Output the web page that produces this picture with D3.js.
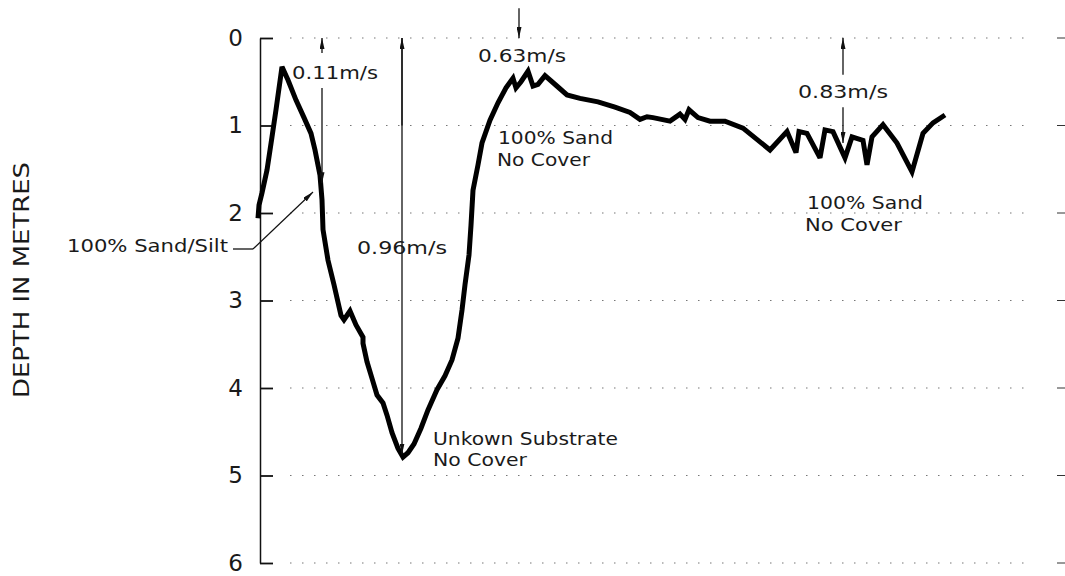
<!DOCTYPE html>
<html>
<head>
<meta charset="utf-8">
<script src="https://cdn.jsdelivr.net/npm/d3@7"></script>
<style>
  body { margin: 0; background: #fff; }
  svg { display: block; }
  text { font-family: "DejaVu Sans", "Liberation Sans", sans-serif; fill: #1a1a1a; }
</style>
</head>
<body>
<svg id="chart" width="1065" height="576"></svg>
<script>
// ---- data read off the cross-section ----
// chainage along the transect (arbitrary units) and bed depth in metres
let chainage = [-2, -1, 2, 7, 12, 16, 22, 28, 36, 44, 51, 55, 60, 62, 63, 68, 74, 81, 84, 90,
  96, 103, 103, 107, 112, 117, 123, 127, 132, 138, 143, 148, 154, 161, 168, 177, 185, 192, 198, 202,
  205, 209, 211, 213, 218, 222, 230, 238, 246, 253, 256, 261, 268, 273, 278, 285, 296, 307, 320, 338,
  355, 370, 380, 387, 393, 410, 420, 425, 429, 438, 450, 465, 483, 510, 527, 536, 539, 547, 560, 565,
  573, 585, 592, 603, 607, 612, 623, 637, 652, 663, 673, 685];
let depth = [2.06, 1.91, 1.77, 1.51, 1.13, 0.82, 0.33, 0.48, 0.71, 0.91, 1.09, 1.28, 1.57, 1.85, 2.19, 2.54, 2.82, 3.17, 3.22, 3.12,
  3.28, 3.42, 3.49, 3.70, 3.89, 4.08, 4.17, 4.31, 4.51, 4.69, 4.79, 4.74, 4.64, 4.46, 4.25, 4.02, 3.86, 3.68, 3.43, 3.11,
  2.82, 2.48, 2.14, 1.74, 1.45, 1.20, 0.94, 0.74, 0.57, 0.46, 0.57, 0.50, 0.38, 0.55, 0.53, 0.43, 0.54, 0.65, 0.69, 0.73,
  0.79, 0.85, 0.93, 0.90, 0.91, 0.95, 0.87, 0.93, 0.82, 0.91, 0.95, 0.95, 1.03, 1.28, 1.07, 1.31, 1.07, 1.09, 1.37, 1.05,
  1.07, 1.37, 1.13, 1.17, 1.45, 1.13, 0.99, 1.20, 1.53, 1.09, 0.97, 0.88];

let depthTicks = [0, 1, 2, 3, 4, 5, 6];

// velocity annotations: where the arrow sits, its label, arrow extent (depths)
let velLabels = ["0.11m/s", "0.96m/s", "0.63m/s", "0.83m/s"];
let velChainage = [62, 142, 259, 583];
let velTop = [0, 0, -0.34, 0];
let velBottom = [1.66, 4.76, 0, 1.2];

let substrateLabels = [["100% Sand/Silt"], ["Unkown Substrate", "No Cover"], ["100% Sand", "No Cover"], ["100% Sand", "No Cover"]];

// ---- layout ----
const svg = d3.select("#chart");
const x = d3.scaleLinear().domain([0, 800]).range([260, 1060]);
const y = d3.scaleLinear().domain([0, 6]).range([38, 563]);

// arrow heads
const defs = svg.append("defs");
defs.append("marker")
    .attr("id", "head")
    .attr("viewBox", "0 0 11 5")
    .attr("refX", 11).attr("refY", 2.5)
    .attr("markerWidth", 11).attr("markerHeight", 5)
    .attr("markerUnits", "userSpaceOnUse")
    .attr("orient", "auto")
  .append("path")
    .attr("d", "M0,0 L11,2.5 L0,5 Z")
    .attr("fill", "#111");

// dotted grid
svg.append("g").selectAll("line")
    .data(depthTicks)
    .join("line")
    .attr("x1", 290).attr("x2", 1030)
    .attr("y1", d => y(d)).attr("y2", d => y(d))
    .attr("stroke", "#777")
    .attr("stroke-width", 1.2)
    .attr("stroke-dasharray", "1.5,10.5");

// little right hand ticks
svg.append("g").selectAll("line")
    .data(depthTicks)
    .join("line")
    .attr("x1", 1057).attr("x2", 1065)
    .attr("y1", d => y(d)).attr("y2", d => y(d))
    .attr("stroke", "#333");

// y axis, ticks pointing inward
const yAxis = d3.axisLeft(y)
    .tickValues(depthTicks)
    .tickFormat(d3.format("d"))
    .tickSize(-13)
    .tickSizeOuter(0)
    .tickPadding(17);

const ax = svg.append("g")
    .attr("transform", "translate(260,0)")
    .call(yAxis);
ax.select(".domain").attr("stroke", "#111").attr("stroke-width", 1.5);
ax.selectAll(".tick line").attr("stroke", "#111").attr("stroke-width", 1.8);
ax.selectAll(".tick text")
    .attr("font-size", 23)
    .attr("font-family", "DejaVu Sans, sans-serif")
    .attr("fill", "#1a1a1a");

// axis title
svg.append("text")
    .attr("transform", "translate(29,280) rotate(-90)")
    .attr("text-anchor", "middle")
    .attr("font-size", 21)
    .attr("textLength", 236)
    .attr("lengthAdjust", "spacingAndGlyphs")
    .attr("fill", "#222")
    .text("DEPTH IN METRES");

// bed profile
const profile = chainage.map((c, i) => [c, depth[i]]);
const line = d3.line().x(d => x(d[0])).y(d => y(d[1]));
svg.append("path")
    .datum(profile)
    .attr("d", line)
    .attr("fill", "none")
    .attr("stroke", "#000")
    .attr("stroke-width", 5)
    .attr("stroke-linejoin", "miter")
    .attr("stroke-miterlimit", 3);

// velocity arrows
function arrow(cx, d0, d1, headAt) {
  const a = svg.append("line")
      .attr("x1", x(cx)).attr("x2", x(cx))
      .attr("stroke", "#111").attr("stroke-width", 1.3);
  if (headAt === "top") {
    a.attr("y1", y(d1)).attr("y2", y(d0)).attr("marker-end", "url(#head)");
  } else {
    a.attr("y1", y(d0)).attr("y2", y(d1)).attr("marker-end", "url(#head)");
  }
  return a;
}

function label(txt, lx, ly, w) {
  return svg.append("text")
      .attr("x", lx).attr("y", ly)
      .attr("font-size", 17)
      .attr("textLength", w)
      .attr("lengthAdjust", "spacingAndGlyphs")
      .text(txt);
}

// 0.11
arrow(velChainage[0], velTop[0], 0.17, "top");
arrow(velChainage[0], 0.57, velBottom[0], "bottom");
label(velLabels[0], 292, 79, 86);

// 0.96 (heads at both ends)
arrow(velChainage[1], velTop[1], velBottom[1], "bottom");
arrow(velChainage[1], velTop[1], 1, "top");
label(velLabels[1], 357, 254, 90);

// 0.63
arrow(velChainage[2], velTop[2], velBottom[2], "bottom");
label(velLabels[2], 478, 62, 88);

// 0.83
arrow(velChainage[3], velTop[3], 0.42, "top");
arrow(velChainage[3], 0.79, velBottom[3], "bottom");
label(velLabels[3], 798, 98, 90);

// substrate notes
label(substrateLabels[0][0], 67, 252, 161);
svg.append("path")
    .attr("d", "M233,249 H253")
    .attr("stroke", "#111").attr("fill", "none").attr("stroke-width", 1.3);
svg.append("line")
    .attr("x1", 253).attr("y1", 249).attr("x2", 313).attr("y2", 192)
    .attr("stroke", "#111").attr("stroke-width", 1.2)
    .attr("marker-end", "url(#head)");

label(substrateLabels[1][0], 433, 445, 185);
label(substrateLabels[1][1], 433, 466, 94);

label(substrateLabels[2][0], 498, 144, 115);
label(substrateLabels[2][1], 497, 166, 93);

label(substrateLabels[3][0], 807, 209, 116);
label(substrateLabels[3][1], 805, 231, 97);
</script>
</body>
</html>
